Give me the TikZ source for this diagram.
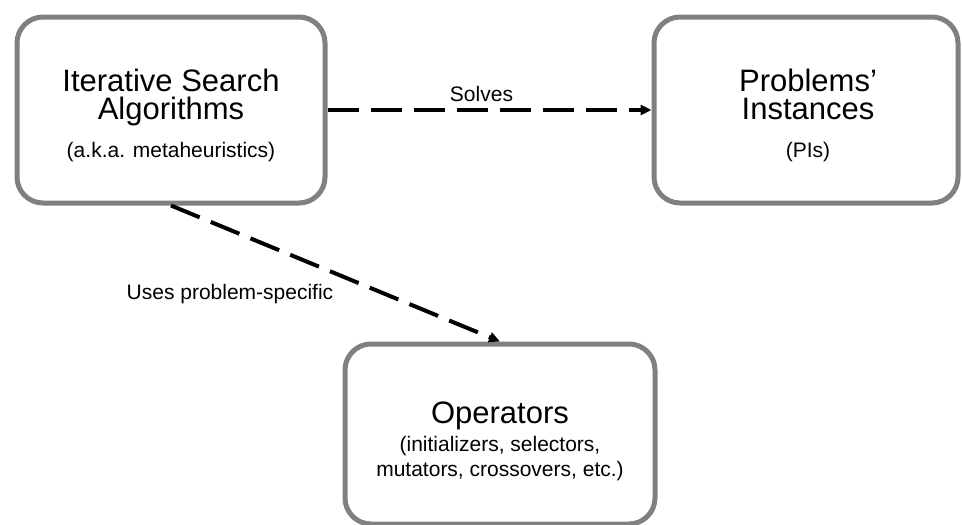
\documentclass[tikz,border=0pt]{standalone}
\usepackage{fontspec}
\setmainfont{Liberation Sans}
\usetikzlibrary{arrows.meta}
\definecolor{boxgray}{HTML}{808080}

\begin{document}
\begin{tikzpicture}[x=1pt, y=-1pt,
  box/.style={draw=boxgray, line width=5pt, rounded corners=26pt, fill=white, inner sep=0pt},
  bigtext/.style={anchor=base, inner sep=0pt, font=\fontsize{31}{36}\selectfont},
  smalltext/.style={anchor=base, inner sep=0pt, font=\fontsize{21}{25}\selectfont},
  flow/.style={draw=black, line width=4pt, dash pattern=on 31pt off 12pt, -{Triangle[length=11pt, width=10pt]}}]
\useasboundingbox (0,0) rectangle (962,525);
\node[box, minimum width=308, minimum height=186] (isa) at (171,110) {};
\node[box, minimum width=304, minimum height=186] (pi) at (806,110) {};
\node[box, minimum width=310, minimum height=180] (ops) at (500,434) {};
\path
(171,91) node[bigtext] (isa-l1) {Iterative Search};
\path
(171,119) node[bigtext] (isa-l2) {Algorithms};
\path
(171,157) node[smalltext] (isa-l3) {(a.k.a. metaheuristics)};
\path
(808,91) node[bigtext] (pi-l1) {Problems’};
\path
(808,119) node[bigtext] (pi-l2) {Instances};
\path
(808,157) node[smalltext] (pi-l3) {(PIs)};
\path
(500,423) node[bigtext] (ops-l1) {Operators};
\path
(500,451) node[smalltext] (ops-l2) {(initializers, selectors,};
\path
(500,476) node[smalltext] (ops-l3) {mutators, crossovers, etc.)};
\draw[flow] (isa.east) -- node[smalltext, xshift=-8pt, yshift=9pt] (solves) {Solves} (pi.west);
\draw[flow] (isa.south) -- (ops.north);
\path
(230,299) node[smalltext] (uses) {Uses problem-specific};
\end{tikzpicture}
\end{document}
